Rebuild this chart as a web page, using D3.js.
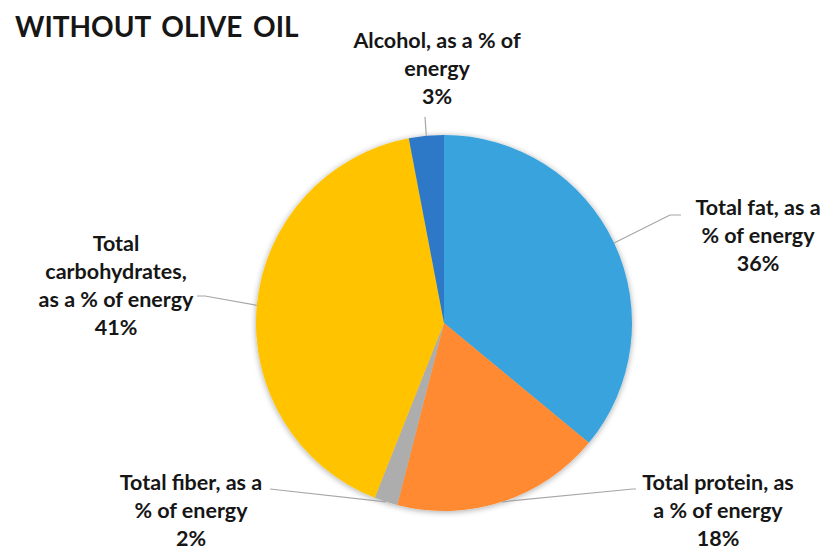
<!DOCTYPE html>
<html>
<head>
<meta charset="utf-8">
<script src="https://cdn.jsdelivr.net/npm/d3@7"></script>
<style>
  html, body { margin: 0; padding: 0; background: #fff; }
  svg { display: block; }
  text { font-family: Lato, "Open Sans", sans-serif; font-weight: 700; fill: #161616; }
</style>
</head>
<body>
<svg id="chart" width="834" height="560"></svg>
<script>
// Energy share of each nutrient (percent), in clockwise order from 12 o'clock
const categories = [
  "Total fat, as a % of energy",
  "Total protein, as a % of energy",
  "Total fiber, as a % of energy",
  "Total carbohydrates, as a % of energy",
  "Alcohol, as a % of energy"
];
const values = [36, 18, 2, 41, 3];
const colors = ["#37A3DC", "#FF8A30", "#ADADAD", "#FFC300", "#2E78C8"];

// Wrapped label lines (category text only; the percentage is appended from values)
const labelLines = [
  ["Total fat, as a", "% of energy"],
  ["Total protein, as", "a % of energy"],
  ["Total fiber, as a", "% of energy"],
  ["Total", "carbohydrates,", "as a % of energy"],
  ["Alcohol, as a % of", "energy"]
];

// Layout: label anchor (centre x, first baseline) and leader-line elbow points
const labelLayout = [
  { x: 758, y: 215, elbow: [[670, 215], [681, 215]] },
  { x: 718, y: 490, elbow: [[633, 489], [636, 489]] },
  { x: 191, y: 490, elbow: [[270, 489]] },
  { x: 116, y: 251, elbow: [[205, 296], [197, 296]] },
  { x: 437, y: 48,  elbow: [[425, 117]] }
];

const svg = d3.select("#chart");
const cx = 444, cy = 323, r = 188;
const lineH = 28;

// Soft drop shadow under the pie
const defs = svg.append("defs");
const f = defs.append("filter").attr("id", "shadow")
  .attr("x", "-10%").attr("y", "-10%").attr("width", "120%").attr("height", "120%");
f.append("feGaussianBlur").attr("in", "SourceAlpha").attr("stdDeviation", 3).attr("result", "b");
f.append("feOffset").attr("in", "b").attr("dx", 0).attr("dy", 1).attr("result", "o");
f.append("feComponentTransfer").attr("in", "o").attr("result", "s")
  .append("feFuncA").attr("type", "linear").attr("slope", 0.35);
const m = f.append("feMerge");
m.append("feMergeNode").attr("in", "s");
m.append("feMergeNode").attr("in", "SourceGraphic");

// Title
svg.append("text")
  .attr("x", 15).attr("y", 37)
  .style("font-size", "28px")
  .style("word-spacing", "4px")
  .text("WITHOUT OLIVE OIL");

const pie = d3.pie().sort(null).value(d => d)(values);
const arc = d3.arc().innerRadius(0).outerRadius(r);

const g = svg.append("g").attr("transform", `translate(${cx},${cy})`);
g.append("g").attr("filter", "url(#shadow)")
  .selectAll("path")
  .data(pie)
  .join("path")
  .attr("d", arc)
  .attr("fill", (d, i) => colors[i]);

// Leader lines from slice mid-angle on the rim to each label
const leaders = svg.append("g");
pie.forEach((d, i) => {
  const a = (d.startAngle + d.endAngle) / 2;
  const start = [cx + r * Math.sin(a), cy - r * Math.cos(a)];
  const pts = [start].concat(labelLayout[i].elbow);
  leaders.append("path")
    .attr("d", d3.line()(pts))
    .attr("fill", "none")
    .attr("stroke", "#A6A6A6")
    .attr("stroke-width", 1.2);
});

// Labels
pie.forEach((d, i) => {
  const L = labelLayout[i];
  const lines = labelLines[i].concat([values[i] + "%"]);
  const t = svg.append("text")
    .attr("text-anchor", "middle")
    .style("font-size", "21.5px");
  lines.forEach((s, k) => {
    t.append("tspan").attr("x", L.x).attr("y", L.y + k * lineH).text(s);
  });
});
</script>
</body>
</html>
